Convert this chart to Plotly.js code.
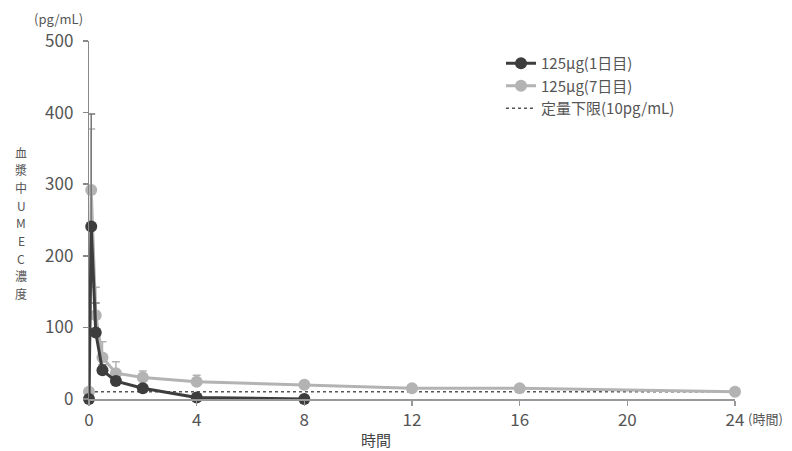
<!DOCTYPE html>
<html>
<head>
<meta charset="utf-8">
<script src="https://cdn.plot.ly/plotly-3.0.1.min.js"></script>
<style>html,body{margin:0;padding:0;background:#fff;}#chart{width:792px;height:451px;}</style>
</head>
<body>
<div id="chart"></div>
<script>
// Time points (hours)
const timeDay1 = [0, 0.083, 0.25, 0.5, 1, 2, 4, 8];
const concDay1 = [0, 241, 93, 40, 25, 15, 2, 0];
const sdDay1   = [0, 157, 41, 8, 6, 5, 3, 0];

const timeDay7 = [0, 0.083, 0.25, 0.5, 1, 2, 4, 8, 12, 16, 24];
const concDay7 = [10, 292, 117, 58, 36, 30, 24, 20, 15, 15, 10];
const sdDay7   = [0, 85, 39, 22, 16, 9, 9, 0, 0, 0, 0];

const lloqX = [0, 24];
const lloqY = [10, 10];

const xTicks = [0, 4, 8, 12, 16, 20, 24];
const yTicks = [0, 100, 200, 300, 400, 500];

const nameDay1 = '125μg(1日目)';
const nameDay7 = '125μg(7日目)';
const nameLloq = '定量下限(10pg/mL)';
const yTitle = '血漿中UMEC濃度';
const xTitle = '時間';
const yUnit = '(pg/mL)';
const xUnit = '(時間)';

const FONT = '"Noto Sans CJK JP", "Noto Sans", sans-serif';
const darkC = '#3d3d3d';
const lightC = '#b3b3b3';

const traces = [
  {
    x: lloqX, y: lloqY, mode: 'lines', name: nameLloq, legendrank: 3,
    line: {color: '#555', width: 1.5, dash: 'dot'}, cliponaxis: false
  },
  {
    x: timeDay7, y: concDay7, mode: 'lines+markers', name: nameDay7, legendrank: 2,
    line: {color: lightC, width: 3}, marker: {color: lightC, size: 12},
    error_y: {type: 'data', symmetric: false, array: sdDay7, arrayminus: sdDay7.map(() => 0),
              color: lightC, thickness: 1.5, width: 4},
    cliponaxis: false
  },
  {
    x: timeDay1, y: concDay1, mode: 'lines+markers', name: nameDay1, legendrank: 1,
    line: {color: darkC, width: 3}, marker: {color: darkC, size: 12},
    error_y: {type: 'data', symmetric: false, array: sdDay1, arrayminus: sdDay1.map(() => 0),
              color: '#777', thickness: 1.5, width: 4},
    cliponaxis: false
  }
];

const L = 89, R = 735, T = 41, B = 399;
const W = R - L, H = B - T;
const px = v => (v - L) / W;
const py = v => (B - v) / H;

const annotations = [
  {text: yUnit, xref: 'paper', yref: 'paper', x: px(58), y: py(19), showarrow: false,
   font: {family: FONT, size: 13, color: '#555'}, xanchor: 'center', yanchor: 'middle'},
  {text: xUnit, xref: 'paper', yref: 'paper', x: px(746), y: py(418), showarrow: false,
   font: {family: FONT, size: 13, color: '#555'}, xanchor: 'left', yanchor: 'middle'},
  {text: xTitle, xref: 'paper', yref: 'paper', x: px(376), y: py(440), showarrow: false,
   font: {family: FONT, size: 15, color: '#444'}, xanchor: 'center', yanchor: 'middle'}
];
Array.from(yTitle).forEach((ch, i) => {
  annotations.push({text: ch, xref: 'paper', yref: 'paper', x: px(21), y: py(152 + i * 17.7),
    showarrow: false, font: {family: FONT, size: 12, color: '#555'}, xanchor: 'center', yanchor: 'middle'});
});

const layout = {
  width: 792, height: 451,
  margin: {l: L, r: 792 - R, t: T, b: 451 - B},
  paper_bgcolor: '#fff', plot_bgcolor: '#fff',
  font: {family: FONT, color: '#555'},
  showlegend: true,
  legend: {x: px(501), y: py(47), xanchor: 'left', yanchor: 'top',
           font: {family: FONT, size: 15, color: '#555'}, bgcolor: 'rgba(0,0,0,0)',
           tracegroupgap: 0, itemwidth: 30},
  xaxis: {range: [0, 24], tickvals: xTicks, ticktext: xTicks.map(String),
          showgrid: false, zeroline: false, showline: true, linecolor: '#999', linewidth: 1.5,
          ticks: 'outside', ticklen: 5, tickcolor: '#999', tickwidth: 1.5,
          tickfont: {family: FONT, size: 17, color: '#555'}},
  yaxis: {range: [0, 500], tickvals: yTicks, ticktext: yTicks.map(v => v + '\u2004'),
          showgrid: false, zeroline: false, showline: true, linecolor: '#888', linewidth: 1.5,
          ticks: 'outside', ticklen: 5, tickcolor: '#888', tickwidth: 1.5,
          tickfont: {family: FONT, size: 17, color: '#555'}},
  annotations: annotations
};

Plotly.newPlot('chart', traces, layout, {displayModeBar: false, staticPlot: true});
</script>
</body>
</html>
